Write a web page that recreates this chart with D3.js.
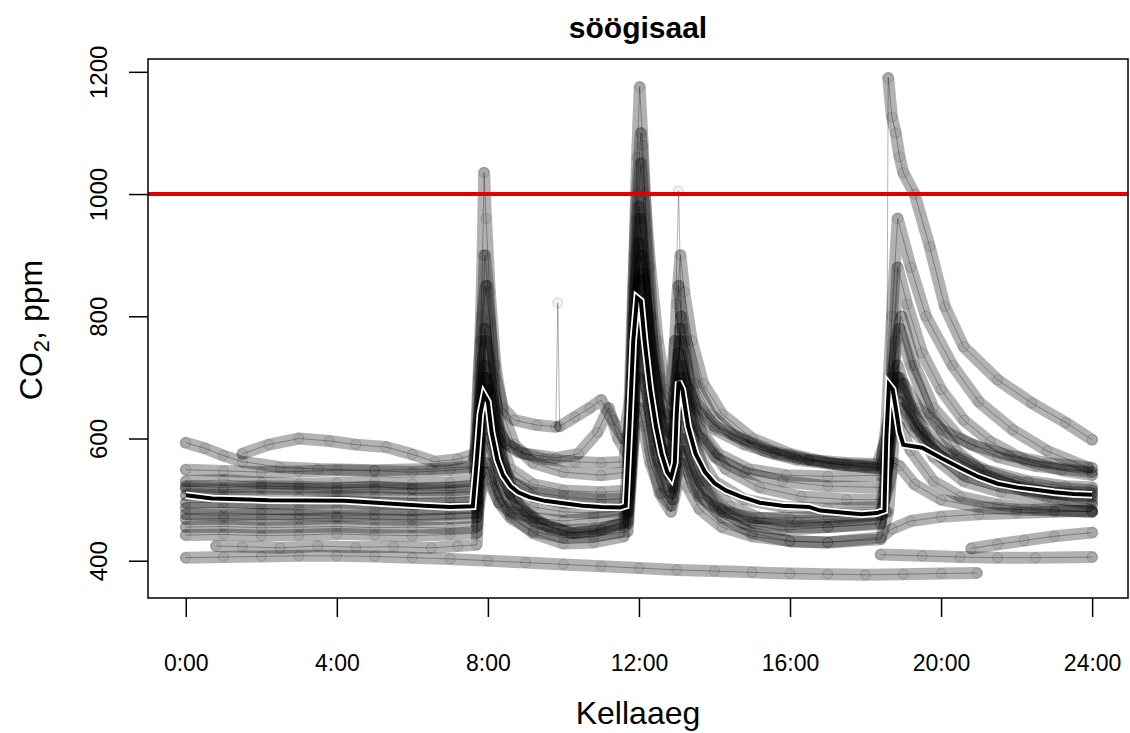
<!DOCTYPE html>
<html>
<head>
<meta charset="utf-8">
<script src="https://cdn.jsdelivr.net/npm/d3@7"></script>
<style>
body { margin: 0; background: #fff; }
text { font-family: "Liberation Sans", Arial, sans-serif; fill: #000; }
</style>
</head>
<body>
<svg id="chart" width="1130" height="733"></svg>
<script>
var day01 = [[0,593],[0.5,584],[1,572],[1.5,562],[2.5,553],[3.5,550],[5,548],[6.5,550],[7.6,554],[7.72,600],[7.82,680],[7.92,720],[8.05,680],[8.2,630],[8.45,595],[8.8,578],[9.5,566],[10.3,562],[11,560],[11.6,562],[11.8,640],[11.92,800],[12.05,900],[12.2,820],[12.4,720],[12.65,640],[12.9,605],[13.0,700],[13.1,760],[13.25,720],[13.5,660],[14,620],[14.8,598],[15.6,578],[16.5,565],[17.5,556],[18.4,552],[18.55,620],[18.7,800],[18.85,960],[19.2,880],[19.6,800],[20.3,720],[21,660],[21.9,614],[22.8,580],[23.9,552]];
var day02 = [[0,549],[1,547],[2,545],[3,546],[4,548],[5,547],[6,545],[7,548],[7.65,552],[7.75,700],[7.85,800],[7.95,850],[8.05,790],[8.2,700],[8.4,650],[8.7,630],[9.3,622],[9.8,619],[9.85,822],[9.9,620],[10.3,635],[10.7,650],[11.0,663],[11.3,630],[11.6,600],[11.75,660],[11.85,850],[11.95,1000],[12.05,1100],[12.15,1000],[12.3,880],[12.5,760],[12.7,680],[12.9,660],[13.0,820],[13.1,900],[13.2,840],[13.4,760],[13.7,690],[14.2,640],[15,600],[16,575],[17,560],[18,553],[18.5,550],[18.65,640],[18.8,760],[18.95,800],[19.3,720],[19.8,650],[20.5,600],[21.5,570],[22.5,555],[24,545]];
var day03 = [[0,530],[1,532],[2,528],[3,526],[4,527],[5,529],[6,526],[7,528],[7.65,532],[7.72,620],[7.8,760],[7.86,900],[7.9,1035],[7.95,960],[8.05,840],[8.2,720],[8.4,640],[8.7,590],[9.2,560],[10,545],[11,540],[11.7,545],[11.8,700],[11.88,900],[11.95,1060],[12.02,1175],[12.1,1080],[12.2,940],[12.35,800],[12.55,700],[12.8,640],[12.95,760],[13.05,1005],[13.12,800],[13.25,760],[13.5,690],[13.9,640],[14.5,605],[15.3,580],[16.2,565],[17.2,558],[18.3,556],[18.55,600],[18.7,680],[18.85,700],[19.1,660],[19.6,610],[20.3,575],[21.2,548],[22.3,530],[23.3,522],[24,520]];
var day04 = [[0,522],[1,520],[2,522],[3,521],[4,519],[5,521],[6,518],[7,520],[7.68,522],[7.75,580],[7.85,640],[7.95,655],[8.1,610],[8.3,560],[8.6,530],[9.2,512],[10,505],[11,500],[11.7,502],[11.8,600],[11.9,720],[12.0,800],[12.12,760],[12.3,660],[12.55,590],[12.85,560],[13.0,640],[13.1,700],[13.25,660],[13.5,610],[14,570],[14.8,545],[15.8,530],[17,522],[18.4,520],[18.6,560],[18.75,640],[18.9,650],[19.3,610],[20,570],[21,540],[22,522],[23,510],[24,505]];
var day05 = [[0,507],[1,505],[2,504],[3,503],[4,505],[5,504],[6,502],[7,503],[7.68,505],[7.75,580],[7.85,660],[7.95,700],[8.1,640],[8.3,570],[8.6,530],[9.2,505],[10,495],[11,492],[11.7,495],[11.8,640],[11.9,840],[12.0,980],[12.1,900],[12.25,780],[12.5,640],[12.8,560],[12.95,640],[13.05,850],[13.15,780],[13.35,680],[13.7,600],[14.3,550],[15.2,520],[16.3,505],[17.5,500],[18.5,500],[18.6,600],[18.72,700],[18.85,720],[19.2,650],[19.8,580],[20.6,540],[21.6,522],[22.8,512],[24,510]];
var day06 = [[0,486],[1,487],[2,485],[3,484],[4,486],[5,485],[6,484],[7,486],[7.7,488],[7.76,600],[7.84,760],[7.92,900],[8.0,850],[8.15,700],[8.35,580],[8.6,510],[9,480],[9.6,455],[10.3,445],[11,450],[11.6,462],[11.75,600],[11.85,800],[11.95,960],[12.05,1050],[12.15,960],[12.3,800],[12.5,660],[12.75,570],[12.9,540],[13.0,660],[13.08,780],[13.2,700],[13.45,600],[13.8,530],[14.4,490],[15.2,470],[16.2,465],[17.3,468],[18.4,475],[18.55,480],[18.6,1190],[18.7,1126],[18.8,1100],[18.9,1061],[19.0,1035],[19.3,1000],[19.7,914],[20.1,816],[20.6,750],[21.5,696],[22.4,658],[23.3,626],[24,598]];
var day07 = [[0,476],[1,474],[2,476],[3,475],[4,473],[5,475],[6,474],[7,476],[7.7,478],[7.76,560],[7.84,680],[7.92,780],[8.02,730],[8.2,620],[8.45,540],[8.8,490],[9.4,460],[10.2,445],[11,452],[11.7,465],[11.8,560],[11.9,700],[12.0,850],[12.1,870],[12.2,780],[12.4,650],[12.65,560],[12.9,520],[13.0,580],[13.1,650],[13.25,600],[13.55,540],[14,490],[14.8,460],[15.8,450],[17,455],[18.4,462],[18.55,520],[18.7,700],[18.85,880],[19.1,820],[19.5,740],[20,680],[20.6,630],[21.3,595],[22.2,565],[23.2,548],[24,540]];
var day08 = [[0,455],[1,456],[2,454],[3,455],[4,456],[5,454],[6,455],[7,453],[7.7,456],[7.76,520],[7.85,580],[7.95,600],[8.1,560],[8.3,510],[8.6,475],[9.2,445],[10,428],[10.8,430],[11.6,440],[11.75,520],[11.85,650],[11.95,740],[12.05,760],[12.2,680],[12.45,580],[12.7,520],[12.9,500],[13.0,560],[13.1,600],[13.3,560],[13.6,510],[14.2,470],[15,445],[16,432],[17,430],[18.4,435],[18.6,480],[18.75,600],[18.9,620],[19.2,580],[19.8,530],[20.5,505],[21.5,492],[22.5,485],[24,480]];
var day09 = [[0,442],[1,443],[2,441],[3,442],[4,444],[5,442],[6,441],[7,443],[7.7,445],[7.76,500],[7.86,545],[7.96,560],[8.1,530],[8.3,495],[8.6,470],[9.2,448],[10,438],[10.8,440],[11.7,448],[11.8,540],[11.9,640],[12.0,700],[12.12,660],[12.3,580],[12.55,510],[12.85,480],[13.0,520],[13.1,560],[13.3,520],[13.6,485],[14.2,455],[15,440],[16,432],[17,430],[18.4,438],[18.7,452],[19.2,465],[20,472],[21,476],[22,478],[23,480],[24,482]];
var day10 = [[0.8,424],[1.5,423],[2.5,421],[3.5,424],[4.5,422],[5.5,423],[6.5,421],[7.2,424],[7.7,426],[7.76,490],[7.86,530],[7.96,545],[8.1,520],[8.3,495],[8.6,480],[9.2,470],[10,465],[10.8,470],[11.7,478],[11.8,560],[11.9,620],[12.0,650],[12.12,620],[12.3,560],[12.6,510],[12.85,490],[13.0,540],[13.1,580],[13.3,545],[13.6,505],[14.2,480],[15,470],[16,470],[17,472],[18.4,476],[18.6,520],[18.75,560],[18.9,555],[19.3,525],[20,500],[21,488],[22,484],[23,482],[24,480]];
var day11 = [[0,405],[1,406],[2,407],[3,408],[4,408],[5,407],[6,405],[7,403],[8,400],[9,397],[10,394],[11,391],[12,388],[13,385],[14,383],[15,381],[16,379],[17,378],[18,377],[19,378],[20,379],[20.95,380]];
var day12 = [[1.5,575],[2.2,590],[3,600],[3.8,596],[4.5,590],[5.3,586],[6,574],[6.6,562],[7.2,566],[7.7,575],[7.8,640],[7.9,700],[8.0,680],[8.2,620],[8.5,590],[9,575],[9.8,568],[10.4,575],[10.9,610],[11.2,650],[11.45,600],[11.7,575],[11.82,700],[11.92,860],[12.02,960],[12.15,860],[12.3,740],[12.55,650],[12.8,610],[12.95,680],[13.05,740],[13.2,700],[13.5,650],[14,615],[14.8,590],[15.6,575],[16.5,565],[17.5,560],[18.4,558],[18.6,620],[18.8,680],[19.0,690],[19.4,650],[20,615],[20.8,590],[21.8,572],[22.8,560],[24,552]];
var day13 = [[0,495],[1,496],[2,494],[3,495],[4,497],[5,495],[6,493],[7,494],[7.7,496],[7.76,570],[7.86,660],[7.96,680],[8.1,620],[8.3,550],[8.6,510],[9.2,488],[10,480],[10.8,478],[11.7,482],[11.8,600],[11.9,760],[12.0,860],[12.1,820],[12.25,700],[12.5,600],[12.8,540],[12.95,600],[13.05,690],[13.2,650],[13.5,580],[14,530],[14.8,500],[15.8,488],[17,485],[18.4,488],[18.6,560],[18.75,680],[18.9,700],[19.2,640],[19.8,570],[20.6,530],[21.6,512],[22.8,502],[24,498]];
var day14 = [[0,518],[1,516],[2,518],[3,517],[4,515],[5,517],[6,516],[7,515],[7.68,518],[7.75,620],[7.85,720],[7.95,760],[8.1,680],[8.3,600],[8.6,550],[9.2,525],[10,515],[11,512],[11.7,515],[11.8,660],[11.9,820],[12.0,920],[12.12,860],[12.3,740],[12.55,640],[12.85,580],[13.0,660],[13.1,720],[13.25,680],[13.55,620],[14.1,575],[14.9,550],[15.9,540],[17,538],[18.4,540],[18.6,600],[18.75,650],[18.9,660],[19.3,620],[20,580],[21,550],[22,530],[23,520],[24,515]];
var day15 = [[0,468],[1,469],[2,467],[3,468],[4,470],[5,468],[6,467],[7,469],[7.7,471],[7.76,540],[7.86,620],[7.96,640],[8.1,590],[8.3,530],[8.6,495],[9.2,465],[10,450],[10.8,452],[11.7,460],[11.8,580],[11.9,700],[12.0,780],[12.12,740],[12.3,640],[12.55,560],[12.85,510],[13.0,570],[13.1,620],[13.3,580],[13.6,530],[14.2,485],[15,462],[16,455],[17,455],[18.4,460],[18.6,560],[18.75,720],[18.9,780],[19.2,720],[19.7,640],[20.4,580],[21.2,540],[22.2,515],[23.2,500],[24,492]];
var day16 = [[18.4,410],[19.5,408],[20.5,406],[21.5,405],[22.5,405],[24,406]];
var day17 = [[20.8,420],[21.5,427],[22.2,433],[23,440],[24,446]];

// mean of all days
var meanLine = [[0,507],[0.7,502],[2.2,499],[4.2,498],[6.3,490],[7.0,488],[7.6,489],[7.7,560],[7.8,640],[7.9,671],[8.0,660],[8.1,610],[8.25,565],[8.4,540],[8.6,522],[8.8,512],[9.1,504],[9.5,498],[10,494],[10.5,490],[11,488],[11.5,487],[11.65,490],[11.75,620],[11.85,760],[11.95,830],[12.05,825],[12.15,760],[12.3,680],[12.45,620],[12.6,575],[12.75,545],[12.85,536],[12.95,560],[13.0,640],[13.05,693],[13.15,680],[13.3,620],[13.5,575],[13.75,545],[14.0,527],[14.3,515],[14.7,505],[15.2,495],[15.8,490],[16.5,488],[16.8,482],[17.5,478],[17.9,476],[18.3,478],[18.5,482],[18.55,600],[18.62,688],[18.72,680],[18.8,650],[18.9,610],[19.0,590],[19.5,585],[20,568],[20.5,552],[21,537],[21.5,526],[22,520],[22.5,516],[23,512],[23.5,509],[24,508]];

var limit = 1000;
var xTicks = [0, 4, 8, 12, 16, 20, 24];
var xTickLabels = ["0:00", "4:00", "8:00", "12:00", "16:00", "20:00", "24:00"];
var yTicks = [400, 600, 800, 1000, 1200];

var days = [day01, day02, day03, day04, day05, day06, day07, day08, day09,
    day10, day11, day12, day13, day14, day15, day16, day17];

// --- layout ---
var box = { left: 148, right: 1128, top: 59, bottom: 598 };

var svg = d3.select("#chart");

var x = d3.scaleLinear().domain([-1.0, 24.95]).range([box.left, box.right]);
var y = d3.scaleLinear().domain([339, 1221]).range([box.bottom, box.top]);

svg.append("defs").append("clipPath")
    .attr("id", "plotClip")
    .append("rect")
    .attr("x", box.left).attr("y", box.top)
    .attr("width", box.right - box.left).attr("height", box.bottom - box.top);

var plot = svg.append("g").attr("clip-path", "url(#plotClip)");

var line = d3.line()
    .x(function (d) { return x(d[0]); })
    .y(function (d) { return y(d[1]); });

// split a day where the value jumps a lot between two samples,
// those jumps are drawn only as the thin connecting line
function runs(pts) {
    var out = [], cur = [pts[0]];
    for (var i = 1; i < pts.length; i++) {
        if (Math.abs(pts[i][1] - pts[i - 1][1]) > 200) {
            out.push(cur);
            cur = [pts[i]];
        } else {
            cur.push(pts[i]);
        }
    }
    out.push(cur);
    return out;
}

days.forEach(function (day) {
    var g = plot.append("g");

    runs(day).filter(function (r) { return r.length > 1; }).forEach(function (r) {
        g.append("path")
            .datum(r)
            .attr("fill", "none")
            .attr("stroke", "#000")
            .attr("stroke-opacity", 0.3)
            .attr("stroke-width", 12)
            .attr("stroke-linejoin", "round")
            .attr("stroke-linecap", "round")
            .attr("d", line);
    });

    g.append("path")
        .datum(day)
        .attr("fill", "none")
        .attr("stroke", "#000")
        .attr("stroke-opacity", 0.3)
        .attr("stroke-width", 1)
        .attr("d", line);

    g.selectAll("circle")
        .data(day)
        .enter()
        .append("circle")
        .attr("cx", function (d) { return x(d[0]); })
        .attr("cy", function (d) { return y(d[1]); })
        .attr("r", 5)
        .attr("fill", "#000")
        .attr("fill-opacity", 0.05)
        .attr("stroke", "#000")
        .attr("stroke-opacity", 0.15);
});

// mean line: black with white outline
plot.append("path")
    .datum(meanLine)
    .attr("fill", "none")
    .attr("stroke", "#fff")
    .attr("stroke-width", 7.5)
    .attr("stroke-linejoin", "miter")
    .attr("d", line);

plot.append("path")
    .datum(meanLine)
    .attr("fill", "none")
    .attr("stroke", "#000")
    .attr("stroke-width", 4)
    .attr("stroke-linejoin", "miter")
    .attr("d", line);

// limit line
plot.append("line")
    .attr("x1", box.left).attr("x2", box.right)
    .attr("y1", y(limit)).attr("y2", y(limit))
    .attr("stroke", "#e00000")
    .attr("stroke-width", 4);

// box
svg.append("rect")
    .attr("x", box.left).attr("y", box.top)
    .attr("width", box.right - box.left).attr("height", box.bottom - box.top)
    .attr("fill", "none")
    .attr("stroke", "#000")
    .attr("stroke-width", 1.5);

// axes, R style
var xAxis = d3.axisBottom(x)
    .tickValues(xTicks)
    .tickSize(19)
    .tickPadding(38)
    .tickFormat(function (d, i) { return xTickLabels[i]; });

var gx = svg.append("g")
    .attr("transform", "translate(0," + box.bottom + ")")
    .call(xAxis);
gx.select(".domain").remove();
gx.selectAll("line").attr("stroke", "#000").attr("stroke-width", 1.5);
gx.selectAll("text")
    .attr("font-family", "Liberation Sans, Arial, sans-serif")
    .attr("font-size", 23)
    .attr("fill", "#000");

var yAxis = d3.axisLeft(y)
    .tickValues(yTicks)
    .tickSize(19)
    .tickFormat(d3.format("d"));

var gy = svg.append("g")
    .attr("transform", "translate(" + box.left + ",0)")
    .call(yAxis);
gy.select(".domain").remove();
gy.selectAll("line").attr("stroke", "#000").attr("stroke-width", 1.5);
gy.selectAll("text")
    .attr("x", null)
    .attr("dy", null)
    .attr("text-anchor", "middle")
    .attr("transform", "translate(-41,0) rotate(-90)")
    .attr("font-family", "Liberation Sans, Arial, sans-serif")
    .attr("font-size", 24)
    .attr("fill", "#000");

// labels
svg.append("text")
    .attr("x", 638).attr("y", 38)
    .attr("text-anchor", "middle")
    .attr("font-size", 30)
    .attr("font-weight", "bold")
    .text("söögisaal");

svg.append("text")
    .attr("x", 638).attr("y", 724)
    .attr("text-anchor", "middle")
    .attr("font-size", 32)
    .text("Kellaaeg");

var yl = svg.append("text")
    .attr("transform", "translate(42,330) rotate(-90)")
    .attr("text-anchor", "middle")
    .attr("font-size", 32);
yl.append("tspan").text("CO");
yl.append("tspan").attr("font-size", 22).attr("dy", 7).text("2");
yl.append("tspan").attr("dy", -7).text(", ppm");
</script>
</body>
</html>
